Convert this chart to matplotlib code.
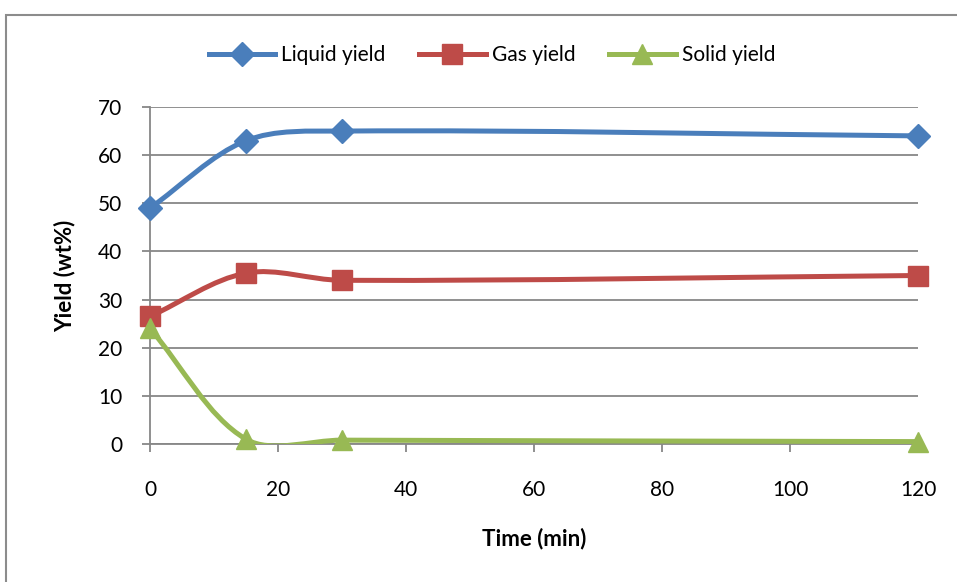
import matplotlib
matplotlib.use("Agg")
import matplotlib.pyplot as plt
from matplotlib.path import Path
from matplotlib.patches import PathPatch, Rectangle
from matplotlib.lines import Line2D
import numpy as np

plt.rcParams['font.family'] = ['Lato', 'DejaVu Sans']

time_min = [0, 15, 30, 120]
liquid_yield = [49, 63, 65, 64]
gas_yield = [26.5, 35.5, 34, 35]
solid_yield = [24, 1, 0.8, 0.5]

series = [
    ("Liquid yield", liquid_yield, "#4A7EBB", "D", 12),
    ("Gas yield", gas_yield, "#BE4B48", "s", 14),
    ("Solid yield", solid_yield, "#98B954", "^", 15),
]

# axis ranges and plot size in pixels (used to scale the smoothing)
x_range, y_range = 120, 70
w_px, h_px = 768, 337


def smooth_path(xs, ys):
    # bezier path like excel's "smoothed line", tangents scaled by segment length
    pts = np.column_stack([xs, ys]).astype(float)
    sc = np.array([w_px / x_range, h_px / y_range])
    n = len(pts)
    verts = [pts[0]]
    codes = [Path.MOVETO]

    def dist(a, b):
        return np.hypot(*((b - a) * sc))

    for i in range(n - 1):
        p0 = pts[i - 1] if i > 0 else pts[i]
        p1 = pts[i]
        p2 = pts[i + 1]
        p3 = pts[i + 2] if i + 2 < n else pts[i + 1]
        d01, d12, d23 = dist(p0, p1), dist(p1, p2), dist(p2, p3)
        c1 = p1 + (p2 - p0) * d12 / (d01 + d12) / 3
        c2 = p2 - (p3 - p1) * d12 / (d12 + d23) / 3
        verts += [c1, c2, p2]
        codes += [Path.CURVE4] * 3
    return Path(verts, codes)


fig = plt.figure(figsize=(9.57, 5.82), dpi=100)
ax = fig.add_axes([150 / 957, 1 - 444 / 582, w_px / 957, h_px / 582])

grid_col = "#878787"
for name, vals, col, mk, ms in series:
    ax.add_patch(PathPatch(smooth_path(time_min, vals), fill=False,
                           edgecolor=col, lw=3.6, capstyle='round', zorder=3))
    ax.plot(time_min, vals, linestyle='none', marker=mk, markersize=ms,
            color=col, zorder=4, clip_on=False)

ax.set_xlim(0, x_range)
ax.set_ylim(0, y_range)
ax.set_xticks(range(0, 121, 20))
ax.set_yticks(range(0, 71, 10))
ax.yaxis.grid(True, color=grid_col, lw=1.3)
ax.set_axisbelow(True)
for s in ['top', 'right']:
    ax.spines[s].set_visible(False)
for s in ['left', 'bottom']:
    ax.spines[s].set_color(grid_col)
    ax.spines[s].set_linewidth(1.3)
ax.tick_params(axis='both', colors=grid_col, length=6, width=1.3,
               labelsize=15, labelcolor='black')
ax.tick_params(axis='x', pad=20)
ax.tick_params(axis='y', pad=14)

ax.set_xlabel("Time (min)", fontsize=16, fontweight='bold', labelpad=20)
ax.set_ylabel("Yield (wt%)", fontsize=16, fontweight='bold', labelpad=16)

handles = [Line2D([], [], color=col, lw=3.6, marker=mk, markersize=ms)
           for name, vals, col, mk, ms in series]
fig.legend(handles, [s[0] for s in series], loc='center',
           bbox_to_anchor=(492 / 957, 1 - 55 / 582), ncol=3, frameon=False,
           fontsize=15, handlelength=3.2, handletextpad=0.3, columnspacing=1.6)

# outer chart border (only top and left edges are inside the image)
fig.patches.append(Rectangle((6 / 957, -0.1), 1.2, 1.1 - 15 / 582,
                             transform=fig.transFigure, fill=False,
                             edgecolor="#8C8C8C", lw=1.5))

fig.savefig("out.png", dpi=100)
